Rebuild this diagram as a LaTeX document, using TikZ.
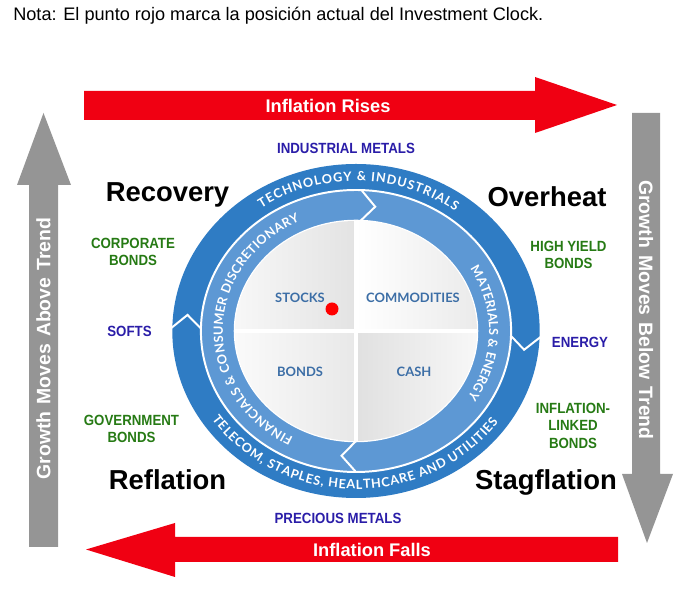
\documentclass[tikz,border=0pt]{standalone}
\usepackage{fontspec}
\setmainfont{Liberation Sans}
\newfontfamily\clockfont{Lato}
\newfontfamily\tagfont[FakeStretch=0.9]{Liberation Sans}
\newfontfamily\arrowfont[WordSpace=1.3]{Liberation Sans}
\usetikzlibrary{decorations.text}
\definecolor{ringblue}{HTML}{2F7CC4}
\definecolor{bandblue}{HTML}{5D98D4}
\definecolor{quadblue}{HTML}{3C6EA6}
\definecolor{assetgreen}{HTML}{267A14}
\definecolor{assetblue}{HTML}{2A1DA8}
\definecolor{trendgray}{HTML}{959595}
\definecolor{inflred}{HTML}{F00012}

\begin{document}
\begin{tikzpicture}[x=0.025cm, y=0.025cm,
  phaselabel/.style={font=\fontsize{19.5}{21}\selectfont\bfseries, inner sep=0pt, anchor=base},
  assettag/.style={font=\tagfont\bfseries\fontsize{10.5}{12.4}\selectfont, align=center, inner sep=0pt},
  quadlabel/.style={font=\clockfont\bfseries\fontsize{9.2}{10}\selectfont, text=quadblue, inner sep=0pt},
  bartext/.style={font=\bfseries\fontsize{13}{15}\selectfont, text=white, inner sep=0pt},
  trendtext/.style={font=\arrowfont\bfseries\fontsize{13.8}{15}\selectfont, text=white, inner sep=0pt},
  ringtext/.style={decorate, decoration={text along path, text align=fit to path, text color=white,
    text={|\clockfont\bfseries\fontsize{9}{10}\selectfont|#1}}}]
  \path[use as bounding box] (0,0) rectangle (687,591);
  % note
  \node[anchor=base west, inner sep=0pt, font=\fontsize{12.9}{15}\selectfont] (nota) at (13,570)
    {Nota: El punto rojo marca la posición actual del Investment Clock.};
  % inflation arrows
  \fill[inflred] (84,471) -- (535,471) -- (535,458) -- (617,486) -- (535,514) -- (535,500) -- (84,500) -- cycle;
  \fill[inflred] (618,29) -- (175,29) -- (175,14) -- (86,41.5) -- (175,68) -- (175,54) -- (618,54) -- cycle;
  \node[bartext] (rises) at (328,485.5) {Inflation Rises};
  \node[bartext] (falls) at (372,41.5) {Inflation Falls};
  % growth arrows
  \fill[trendgray] (29,44) -- (58,44) -- (58,406) -- (71,406) -- (43.5,478) -- (17,406) -- (29,406) -- cycle;
  \fill[trendgray] (632,478) -- (660,478) -- (660,117) -- (673,117) -- (647,48) -- (622,117) -- (632,117) -- cycle;
  \node[trendtext, rotate=90] (above) at (43.5,242.5) {Growth Moves Above Trend};
  \node[trendtext, rotate=-90] (below) at (646,281) {Growth Moves Below Trend};
  % the clock
  \begin{scope}[shift={(356,260)}, xscale=1.1]
    \fill[ringblue] (0,0) circle (167);
    \filldraw[fill=bandblue, draw=white, line width=1.4pt] (0,0) circle (141);
    \filldraw[fill=gray!12, draw=white, line width=1.8pt] (0,0) circle (110);
    % quadrants
    \shade[left color=gray!6, right color=gray!22] (0,0) -- (0,110) arc[start angle=90, end angle=180, radius=110] -- cycle;
    \shade[left color=white, right color=gray!16] (0,0) -- (110,0) arc[start angle=0, end angle=90, radius=110] -- cycle;
    \shade[left color=gray!4, right color=gray!18] (0,0) -- (-110,0) arc[start angle=180, end angle=270, radius=110] -- cycle;
    \shade[left color=gray!24, right color=gray!6] (0,0) -- (0,-110) arc[start angle=270, end angle=360, radius=110] -- cycle;
    \draw[white, line width=2.2pt] (0,-110) -- (0,110) (-110,0) -- (110,0);
    % chevrons
    \draw[white, line width=1.4pt] (179:168) -- (174:154) -- (179:141);
    \draw[white, line width=1.4pt] (-2:168) -- (-7:154) -- (-2:141);
    \draw[white, line width=1.4pt] (88:141) -- (82:125.5) -- (88:110);
    \draw[white, line width=1.4pt] (270:141) -- (264:125.5) -- (270:110);
    % sector names
    \path[ringtext={TECHNOLOGY {\&} INDUSTRIALS}] (125:150) arc[start angle=125, end angle=53, radius=150];
    \path[ringtext={TELECOM, STAPLES, HEALTHCARE AND UTILITIES}] (214:158) arc[start angle=214, end angle=325, radius=158];
    \path[ringtext={FINANCIALS {\&} CONSUMER DISCRETIONARY}] (242:121) arc[start angle=242, end angle=115, radius=121];
    \path[ringtext={MATERIALS {\&} ENERGY}] (31:121) arc[start angle=31, end angle=-33, radius=121];
  \end{scope}
  \node[quadlabel] (stocks) at (300,293.5) {STOCKS};
  \node[quadlabel] (commodities) at (413,293.5) {COMMODITIES};
  \node[quadlabel] (bonds) at (300,219) {BONDS};
  \node[quadlabel] (cash) at (414,219) {CASH};
  \fill[red] (332,282) circle (6.5);
  % phases
  \node[phaselabel] (recovery) at (167.5,389) {Recovery};
  \node[phaselabel] (overheat) at (547,384) {Overheat};
  \node[phaselabel] (reflation) at (167.5,101) {Reflation};
  \node[phaselabel] (stagflation) at (546,101) {Stagflation};
  % assets
  \node[assettag, text=assetblue] (indmetals) at (346,442.5) {INDUSTRIAL METALS};
  \node[assettag, text=assetblue] (precious) at (338,72.5) {PRECIOUS METALS};
  \node[assettag, text=assetblue] (softs) at (129.5,259.5) {SOFTS};
  \node[assettag, text=assetblue] (energy) at (580,248.5) {ENERGY};
  \node[assettag, text=assetgreen] (corporate) at (133,339.3) {CORPORATE\\BONDS};
  \node[assettag, text=assetgreen] (government) at (131.5,162) {GOVERNMENT\\BONDS};
  \node[assettag, text=assetgreen] (highyield) at (568.5,336.3) {HIGH YIELD\\BONDS};
  \node[assettag, text=assetgreen] (linkers) at (573,165.3) {INFLATION-\\LINKED\\BONDS};
\end{tikzpicture}
\end{document}
